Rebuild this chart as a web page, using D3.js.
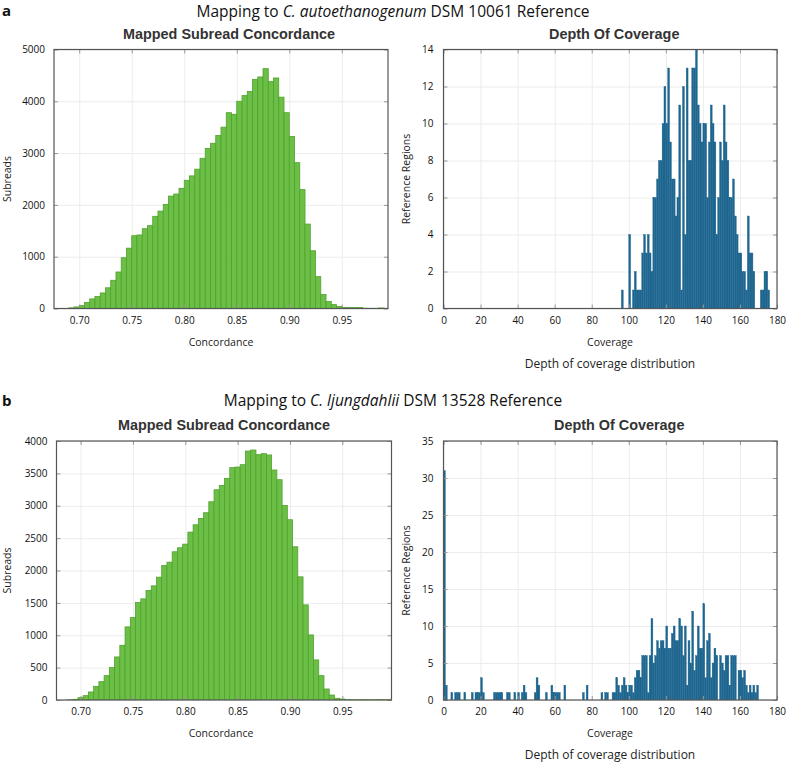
<!DOCTYPE html>
<html>
<head>
<meta charset="utf-8">
<script src="https://cdn.jsdelivr.net/npm/d3@7"></script>
<style>
  body { margin: 0; background: #fff; }
</style>
</head>
<body>
<div id="chart"></div>
<script>
// ---- data ----
const concBinWidth = 0.005;

// panel a, concordance histogram, bins start at 0.690
const concStartA = 0.690;
const concCountsA = [12, 30, 55, 115, 185, 230, 300, 400, 545, 705,
  980, 1165, 1405, 1420, 1540, 1600, 1780, 1880, 2010, 2170,
  2210, 2320, 2475, 2560, 2690, 2900, 3090, 3190, 3340, 3500,
  3780, 3750, 4000, 4110, 4190, 4420, 4470, 4630, 4380, 4450,
  4080, 3780, 3320, 2815, 2295, 1630, 1115, 615, 270, 135,
  75, 40, 22, 20, 20, 20, 5, 3, 3, 10, 3];

// panel b, concordance histogram, bins start at 0.6875
const concStartB = 0.6875;
const concCountsB = [3, 10, 36, 67, 124, 211, 283, 376, 500, 665,
  845, 1129, 1273, 1505, 1562, 1691, 1763, 1897, 2077, 2129,
  2289, 2351, 2407, 2593, 2706, 2804, 2892, 3062, 3247, 3314,
  3423, 3588, 3598, 3634, 3845, 3861, 3789, 3804, 3784, 3552,
  3402, 3005, 2784, 2366, 1902, 1469, 1005, 619, 376, 170,
  77, 26, 15, 6, 4, 3, 5, 4, 3, 6, 4, 3];

// panel a, depth of coverage, first bin = coverage 95
const covStartA = 95;
const covCountsA = [0, 1, 0, 0, 0, 4, 0, 1, 2, 1,
  1, 1, 3, 4, 3, 4, 3, 2, 6, 6,
  7, 8, 8, 10, 12, 10, 13, 9, 7, 7,
  5, 6, 11, 1, 12, 4, 13, 8, 8, 13,
  13, 14, 11, 10, 9, 10, 10, 6, 9, 11,
  10, 9, 4, 6, 9, 8, 11, 9, 8, 6,
  6, 7, 5, 4, 3, 3, 2, 2, 1, 5,
  3, 3, 2, 0, 0, 0, 1, 1, 2, 2, 1];

// panel b, depth of coverage, first bin = coverage 0
const covStartB = 0;
const covCountsB = [31, 2, 0, 0, 1, 0, 1, 1, 1, 0,
  0, 1, 0, 0, 0, 1, 0, 1, 1, 1,
  3, 1, 0, 0, 0, 0, 0, 1, 1, 1,
  1, 1, 0, 0, 1, 1, 0, 0, 1, 0,
  1, 0, 1, 2, 1, 0, 0, 0, 0, 1,
  3, 2, 0, 0, 0, 1, 0, 0, 2, 1,
  1, 1, 1, 0, 0, 2, 0, 0, 0, 0,
  0, 0, 0, 0, 0, 1, 0, 2, 0, 0,
  0, 0, 0, 0, 0, 1, 0, 1, 1, 0,
  0, 1, 1, 3, 2, 1, 2, 3, 2, 1,
  2, 2, 1, 3, 4, 4, 3, 6, 6, 6,
  1, 6, 11, 5, 6, 8, 7, 8, 8, 7,
  10, 7, 7, 9, 10, 8, 8, 11, 10, 6,
  10, 2, 8, 5, 12, 4, 6, 10, 7, 7,
  13, 3, 8, 9, 3, 5, 7, 6, 0, 6,
  5, 4, 6, 6, 2, 6, 6, 6, 0, 4,
  4, 3, 4, 2, 1, 2, 1, 2, 1, 2, 0];

const concTicks = [0.70, 0.75, 0.80, 0.85, 0.90, 0.95];
const covTicks = [0, 20, 40, 60, 80, 100, 120, 140, 160, 180];
const concYTicksA = [0, 1000, 2000, 3000, 4000, 5000];
const concYTicksB = [0, 500, 1000, 1500, 2000, 2500, 3000, 3500, 4000];
const covYTicksA = [0, 2, 4, 6, 8, 10, 12, 14];
const covYTicksB = [0, 5, 10, 15, 20, 25, 30, 35];

const panelLetters = ["a", "b"];
const panelSpecies = ["C. autoethanogenum", "C. ljungdahlii"];
const panelStrain = [" DSM 10061 Reference", " DSM 13528 Reference"];

// ---- drawing ----
const W = 787, H = 763;
const svg = d3.select("#chart").append("svg")
  .attr("width", W).attr("height", H)
  .attr("font-family", "Open Sans");

let clipId = 0;

function drawHist(cfg) {
  const g = svg.append("g");
  const x = d3.scaleLinear().domain(cfg.xDomain).range([cfg.left, cfg.right]);
  const y = d3.scaleLinear().domain(cfg.yDomain).range([cfg.bottom, cfg.top]);
  const h = cfg.bottom - cfg.top, w = cfg.right - cfg.left;

  // grid
  g.append("g")
    .attr("transform", "translate(0," + cfg.bottom + ")")
    .call(d3.axisBottom(x).tickValues(cfg.xTicks).tickSize(-h).tickFormat(""))
    .call(a => a.select(".domain").remove())
    .call(a => a.selectAll("line").attr("stroke", "#ececec"));
  g.append("g")
    .attr("transform", "translate(" + cfg.left + ",0)")
    .call(d3.axisLeft(y).tickValues(cfg.yTicks).tickSize(-w).tickFormat(""))
    .call(a => a.select(".domain").remove())
    .call(a => a.selectAll("line").attr("stroke", "#ececec"));

  // bars
  const id = "clip" + (clipId++);
  g.append("clipPath").attr("id", id).append("rect")
    .attr("x", cfg.left).attr("y", cfg.top).attr("width", w).attr("height", h);
  const bins = cfg.counts.map((n, i) => ({
    x0: cfg.start + i * cfg.binWidth,
    x1: cfg.start + (i + 1) * cfg.binWidth,
    n: n
  })).filter(d => d.n > 0);
  g.append("g").attr("clip-path", "url(#" + id + ")")
    .selectAll("rect").data(bins).join("rect")
    .attr("x", d => x(d.x0))
    .attr("width", d => x(d.x1) - x(d.x0))
    .attr("y", d => y(d.n))
    .attr("height", d => y(0) - y(d.n))
    .attr("fill", cfg.fill)
    .attr("stroke", cfg.stroke)
    .attr("stroke-width", cfg.strokeWidth);

  // inner tick marks on all four sides
  const tk = 4;
  const tickStyle = a => {
    a.select(".domain").remove();
    a.selectAll("line").attr("stroke", "#999");
  };
  const labelStyle = a => a.selectAll("text")
    .attr("font-family", "Open Sans").attr("font-size", 10).attr("fill", "#111");
  g.append("g").attr("transform", "translate(0," + cfg.bottom + ")")
    .call(d3.axisBottom(x).tickValues(cfg.xTicks).tickSize(-tk).tickPadding(8)
      .tickFormat(cfg.xFormat))
    .call(tickStyle).call(labelStyle);
  g.append("g").attr("transform", "translate(0," + cfg.top + ")")
    .call(d3.axisTop(x).tickValues(cfg.xTicks).tickSize(-tk).tickFormat(""))
    .call(tickStyle);
  g.append("g").attr("transform", "translate(" + cfg.left + ",0)")
    .call(d3.axisLeft(y).tickValues(cfg.yTicks).tickSize(-tk).tickPadding(cfg.yPad)
      .tickFormat(d3.format("d")))
    .call(tickStyle).call(labelStyle);
  g.append("g").attr("transform", "translate(" + cfg.right + ",0)")
    .call(d3.axisRight(y).tickValues(cfg.yTicks).tickSize(-tk).tickFormat(""))
    .call(tickStyle);

  // frame
  g.append("rect")
    .attr("x", cfg.left).attr("y", cfg.top).attr("width", w).attr("height", h)
    .attr("fill", "none").attr("stroke", "#555").attr("stroke-width", 1.2);

  // titles and axis labels
  const cx = (cfg.left + cfg.right) / 2;
  g.append("text")
    .attr("x", cx + cfg.titleDx).attr("y", cfg.top - 11)
    .attr("text-anchor", "middle")
    .attr("font-family", "Liberation Sans").attr("font-weight", "bold")
    .attr("font-size", 14.4).attr("fill", "#333")
    .text(cfg.title);
  g.append("text")
    .attr("x", cfg.xLabelX).attr("y", cfg.bottom + 37)
    .attr("text-anchor", "middle")
    .attr("font-size", 10.5).attr("fill", "#222")
    .text(cfg.xLabel);
  g.append("text")
    .attr("transform", "translate(" + cfg.yLabelX + "," + cfg.yLabelY + ") rotate(-90)")
    .attr("dy", "0.35em")
    .attr("text-anchor", "middle")
    .attr("font-size", 10.5).attr("fill", "#222")
    .text(cfg.yLabel);
  return x;
}

const rows = [
  { top: 49.5, bottom: 308.5, textY: 17, letterY: 16 },
  { top: 441, bottom: 700, textY: 406, letterY: 406 }
];
const concCounts = [concCountsA, concCountsB];
const concStarts = [concStartA, concStartB];
const covCounts = [covCountsA, covCountsB];
const covStarts = [covStartA, covStartB];
const concYTicks = [concYTicksA, concYTicksB];
const covYTicks = [covYTicksA, covYTicksB];
const concLeft = [54, 56.5];
const concXDomain = [[0.676, 0.994], [0.677, 0.997]];
const concTitleDx = [8, 0];
const covTitleDx = [4, 9];

rows.forEach((r, i) => {
  // panel letter
  svg.append("text")
    .attr("x", 2).attr("y", r.letterY)
    .attr("font-weight", "bold").attr("font-size", 15).attr("fill", "#111")
    .text(panelLetters[i]);
  // row title
  const t = svg.append("text")
    .attr("x", 393).attr("y", r.textY)
    .attr("text-anchor", "middle")
    .attr("font-size", 15.5).attr("fill", "#111");
  t.append("tspan").text("Mapping to ");
  t.append("tspan").attr("font-style", "italic").text(panelSpecies[i]);
  t.append("tspan").text(panelStrain[i]);

  drawHist({
    left: concLeft[i], right: 388 + i * 3.5, top: r.top, bottom: r.bottom,
    xDomain: concXDomain[i], yDomain: [0, concYTicks[i][concYTicks[i].length - 1]],
    xTicks: concTicks, yTicks: concYTicks[i], xFormat: d3.format(".2f"), yPad: 9,
    counts: concCounts[i], start: concStarts[i], binWidth: concBinWidth,
    fill: "#6cbf46", stroke: "#4fa12c", strokeWidth: 0.8,
    title: "Mapped Subread Concordance", titleDx: concTitleDx[i],
    xLabel: "Concordance", xLabelX: 221,
    yLabel: "Subreads", yLabelX: 7, yLabelY: (r.top + r.bottom) / 2
  });

  drawHist({
    left: 443.5, right: 777, top: r.top, bottom: r.bottom,
    xDomain: [0, 180], yDomain: [0, covYTicks[i][covYTicks[i].length - 1]],
    xTicks: covTicks, yTicks: covYTicks[i], xFormat: d3.format("d"), yPad: 10,
    counts: covCounts[i], start: covStarts[i], binWidth: 1,
    fill: "#1e668f", stroke: "#1e668f", strokeWidth: 0.4,
    title: "Depth Of Coverage", titleDx: covTitleDx[i],
    xLabel: "Coverage", xLabelX: 610,
    yLabel: "Reference Regions", yLabelX: 406, yLabelY: (r.top + r.bottom) / 2
  });

  svg.append("text")
    .attr("x", 610).attr("y", r.bottom + 59)
    .attr("text-anchor", "middle")
    .attr("font-size", 12).attr("fill", "#222")
    .text("Depth of coverage distribution");
});
</script>
</body>
</html>
